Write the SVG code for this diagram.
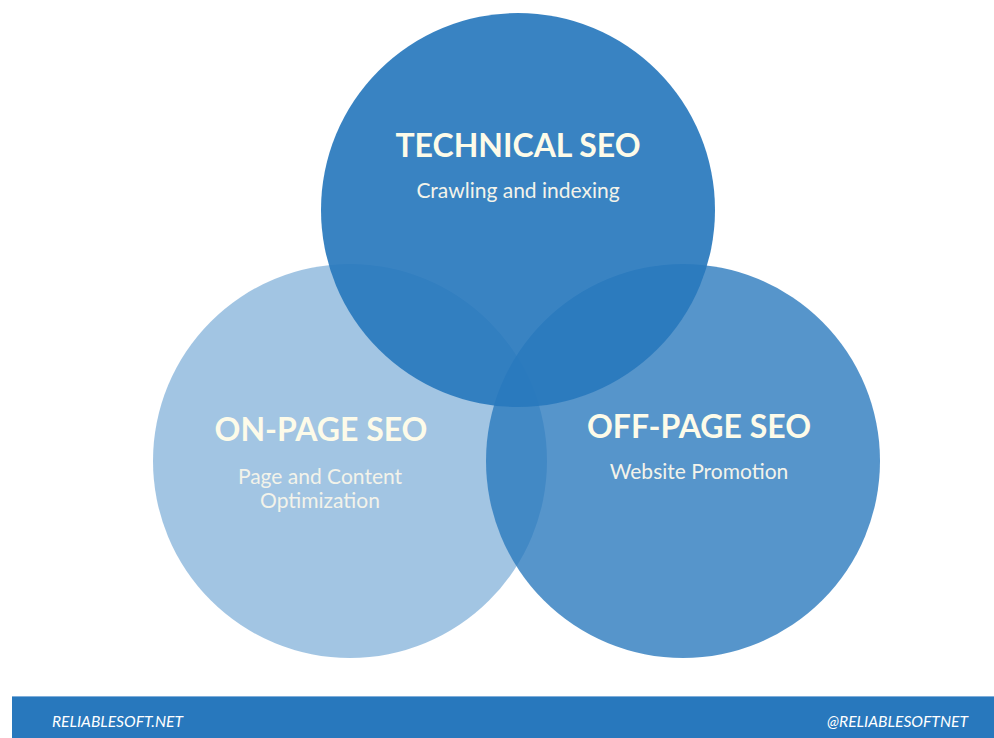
<svg xmlns="http://www.w3.org/2000/svg" width="994" height="738" viewBox="0 0 994 738">
<style>
.circ{fill:#2878BD}
.title{font-family:Lato,"Open Sans",sans-serif;font-weight:bold;font-size:32px;fill:#FDFBE9;text-anchor:middle}
.sub{font-family:Lato,"Open Sans",sans-serif;font-size:21px;fill:#F3F3EA;text-anchor:middle}
.foot{font-family:Lato,"Open Sans",sans-serif;font-style:italic;font-size:15px;fill:#FFFFFF}
</style>
<rect width="994" height="738" fill="#FFFFFF"/>
<g id="on-page">
<circle class="circ" cx="350" cy="461" r="197" fill-opacity="0.43"/>
</g>
<g id="off-page">
<circle class="circ" cx="683" cy="461" r="197" fill-opacity="0.79"/>
</g>
<g id="technical">
<circle class="circ" cx="518" cy="210" r="197" fill-opacity="0.92"/>
</g>
<g id="connectors"></g>
<g id="labels">
<text class="title" x="518" y="157">TECHNICAL SEO</text>
<text class="sub" x="518" y="198">Crawling and indexing</text>
<text class="title" x="321" y="441">ON-PAGE SEO</text>
<text class="sub" x="320" y="484">Page and Content</text>
<text class="sub" x="320" y="508">Optimization</text>
<text class="title" x="699" y="438">OFF-PAGE SEO</text>
<text class="sub" x="699" y="479">Website Promotion</text>
</g>
<g id="footer">
<rect x="12" y="696" width="982" height="42" fill="#2878BD"/>
<rect x="12" y="696" width="982" height="1" fill="#7FAEDA"/>
<text class="foot" x="52" y="727" textLength="131" lengthAdjust="spacingAndGlyphs">RELIABLESOFT.NET</text>
<text class="foot" x="827" y="727" textLength="141" lengthAdjust="spacingAndGlyphs">@RELIABLESOFTNET</text>
</g>
</svg>
